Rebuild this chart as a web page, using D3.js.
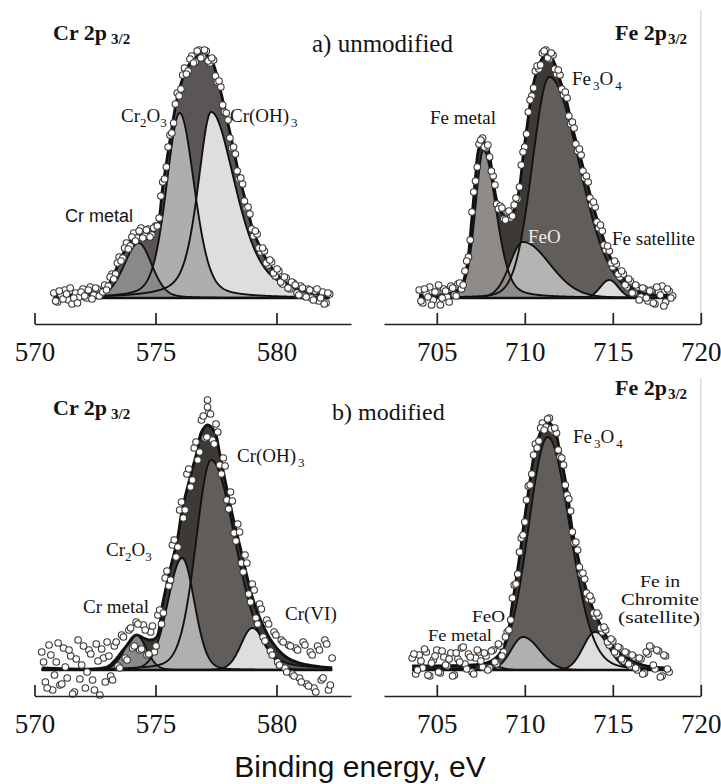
<!DOCTYPE html>
<html><head><meta charset="utf-8">
<script src="https://cdn.jsdelivr.net/npm/d3@7"></script>
<style>html,body{margin:0;padding:0;background:#fff}svg{display:block}</style>
</head><body>
<svg id="chart" width="721" height="784"></svg>
<script>
// ---------------- DATA ----------------
const crTicks = [570, 575, 580];
const feTicks = [705, 710, 715, 720];

// measured spectra: [first energy (eV), step (eV)] and intensities (a.u., background removed)
// two interleaved sweeps per spectrum
const crUnmodScan = [570.8, 0.15];
const crUnmodCounts = [5,-4,3,8,-2,-6,5,1,9,0, 11,3,9,4,13,12,24,24,41,40, 55,52,65,60,70,62,69,63,72,80,
  116,131,163,175,205,209,230,227,242,236, 248,241,247,235,238,216,211,186,178,150,
  144,119,114,90,84,62,64,46,47,33, 36,22,27,14,20,9,15,5,12,2, 9,0,7,-3,6,-5,4];
const crUnmodScan2 = [570.875, 0.15];
const crUnmodCounts2 = [-3,7,-1,4,10,0,-5,6,2,8, -1,10,2,6,8,21,19,35,37,50, 49,61,57,67,60,68,61,70,72,102,
  119,151,165,194,202,223,224,239,235,247, 240,248,237,240,222,217,193,185,160,151,
  127,120,97,91,69,67,50,50,35,38, 25,29,16,21,10,16,13,3,10,1, 8,-2,9,0,-6,5];

const feUnmodScan = [704.0, 0.2];
const feUnmodCounts = [8,-5,4,11,-2,6,-7,9,1,12, 3,14,9,27,41,86,117,154,160,150,
  141,122,94,92,79,86,80,93,99,133, 151,186,202,227,229,245,248,239,243,224,
  223,203,200,174,170,147,143,120,116,93, 91,70,67,48,47,31,34,21,24,11,
  17,5,11,1,9,-3,8,-6,6,12, -4,7,2];
const feUnmodScan2 = [704.1, 0.2];
const feUnmodCounts2 = [-3,9,1,-7,6,13,0,7,-4,10, 2,15,13,37,58,106,131,158,151,153,
  127,113,89,90,78,87,82,100,111,146, 164,198,210,232,233,247,240,245,229,228,
  209,206,182,176,154,149,127,122,100,96, 76,73,53,52,35,37,24,27,13,19,
  5,13,-2,10,0,7,-5,11,3,-8, 9,0];

const crModScan = [570.3, 0.15];
const crModCounts = [18,-12,25,-20,8,-15,22,-8,14,-22, 30,5,-18,20,-10,26,-25,12,28,-6,
  24,4,35,12,40,22,48,20,45,15, 38,18,55,46,92,84,125,113,160,152,
  196,183,222,210,250,232,257,230,246,205, 212,170,178,137,146,107,115,76,86,52,
  66,33,50,19,38,8,30,2,25,-4, 22,-8,28,-14,18,-18,24,-10,30,-20, 12];
const crModScan2 = [570.375, 0.15];
const crModCounts2 = [8,-18,15,-5,27,-14,3,20,-24,11, -9,24,-2,16,-20,9,21,-12,14,-10,
  28,2,33,10,42,24,46,21,40,16, 44,24,60,57,99,90,130,123,168,160,
  201,190,228,218,254,233,256,226,238,196, 204,161,169,129,138,98,107,68,80,46,
  61,29,46,15,35,5,28,-2,24,-6, 20,-12,25,-16,15,-22,20,-8,26,-15];
const crModOutliers = [[577.15, 270], [577.15, 263]];

const feModScan = [703.6, 0.2];
const feModCounts = [12,-4,15,2,18,-6,10,20,-3,13, 4,17,-5,11,22,6,16,-2,12,18,
  3,14,2,20,6,24,18,38,50,85, 96,132,148,184,196,226,229,247,243,252,
  239,237,213,205,175,159,127,120,96,91, 71,70,53,54,38,40,25,29,16,22,
  9,17,4,13,0,11,-3,16,22,1, 19,-6,14,-2];
const feModScan2 = [703.7, 0.2];
const feModCounts2 = [16,0,9,21,-5,7,14,-2,19,5, 11,-6,17,8,23,1,13,-4,20,9,
  17,0,19,8,26,14,33,40,72,86, 118,135,170,185,215,222,242,240,251,241,
  242,220,212,185,171,138,128,103,97,77, 74,57,57,42,43,28,31,18,23,11,
  18,6,15,2,12,-4,18,24,5,20, -7,15,1];

// fitted envelopes [eV, intensity]
const crUnmodFit = [[570.8,2],[571.5,3],[572.0,4],[572.5,6],[572.9,10],[573.1,15],[573.3,25],[573.6,41],[573.9,55],[574.2,61],[574.5,64],[574.8,65],[575.05,70],[575.3,111],[575.6,158],[575.9,200],[576.3,230],[576.8,243],[577.05,244],[577.35,236],[577.65,211],[577.9,185],[578.2,152],[578.5,118],[578.8,90],[579.0,70],[579.3,52],[579.6,38],[580.0,24],[580.4,15],[580.8,9],[581.2,6],[581.6,4],[582.2,3]];
const feUnmodFit = [[704.0,3],[705.0,3],[706.0,6],[706.4,12],[706.7,31],[707.0,81],[707.2,121],[707.4,150],[707.65,156],[707.9,150],[708.2,118],[708.4,98],[708.7,85],[709.0,81],[709.4,88],[709.7,111],[709.9,141],[710.2,181],[710.45,211],[710.85,235],[711.25,245],[711.6,238],[712.0,218],[712.4,195],[712.7,171],[713.1,145],[713.5,118],[713.9,91],[714.3,68],[714.7,48],[715.0,35],[715.4,25],[715.8,15],[716.5,6],[717.5,3],[718.4,3]];
const crModFit = [[570.3,2],[573.0,3],[573.3,9],[573.6,18],[573.9,27],[574.2,35],[574.5,32],[574.8,30],[575.05,33],[575.3,67],[575.6,100],[575.9,130],[576.1,160],[576.4,190],[576.7,217],[576.9,238],[577.15,245],[577.45,238],[577.65,217],[577.9,187],[578.2,153],[578.5,123],[578.75,97],[579.0,73],[579.4,47],[579.85,27],[580.4,13],[580.95,7],[582.3,2]];
const feModFit = [[703.6,4],[707.0,5],[707.8,7],[708.2,10],[708.6,17],[709.0,33],[709.3,67],[709.7,113],[710.0,153],[710.3,190],[710.55,217],[710.95,240],[711.3,248],[711.7,240],[712.0,217],[712.4,180],[712.7,140],[713.1,107],[713.5,80],[713.9,60],[714.25,47],[714.65,33],[715.2,20],[715.8,12],[716.7,5],[718.2,2]];

// fitted components (pseudo-Voigt: centre, height, left/right HWHM, Lorentzian fraction)
const crUnmodPeaks = [
  {name:"Cr(OH)3", center:577.3, height:186, hwhmL:0.65, hwhmR:1.2, lorentz:0.5},
  {name:"Cr2O3", center:576.0, height:185, hwhmL:0.65, hwhmR:0.72, lorentz:0.3},
  {name:"Cr metal", center:574.3, height:55, hwhmL:0.7, hwhmR:0.65, lorentz:0.2}];
const feUnmodPeaks = [
  {name:"Fe3O4", center:711.4, height:221, hwhmL:1.15, hwhmR:2.0, lorentz:0.1},
  {name:"FeO", center:709.9, height:56, hwhmL:0.89, hwhmR:1.8, lorentz:0.1},
  {name:"Fe metal", center:707.65, height:148, hwhmL:0.55, hwhmR:0.85, lorentz:0.3},
  {name:"Fe satellite", center:714.8, height:18, hwhmL:0.6, hwhmR:0.6, lorentz:0}];
const crModPeaks = [
  {name:"Cr(OH)3", center:577.3, height:210, hwhmL:0.75, hwhmR:1.2, lorentz:0.2},
  {name:"Cr2O3", center:576.1, height:112, hwhmL:0.7, hwhmR:0.6, lorentz:0.1},
  {name:"Cr(VI)", center:579.0, height:42, hwhmL:0.55, hwhmR:0.65, lorentz:0.1},
  {name:"Cr metal", center:574.2, height:35, hwhmL:0.55, hwhmR:0.5, lorentz:0.1}];
const feModPeaks = [
  {name:"Fe3O4", center:711.3, height:233, hwhmL:1.3, hwhmR:1.5, lorentz:0.1},
  {name:"FeO", center:709.9, height:33, hwhmL:0.8, hwhmR:1.1, lorentz:0},
  {name:"Fe chromite", center:714.0, height:38, hwhmL:0.8, hwhmR:0.9, lorentz:0},
  {name:"Fe metal", center:707.8, height:7, hwhmL:0.7, hwhmR:0.7, lorentz:0}];

// ---------------- LAYOUT / STYLE ----------------
const svg = d3.select("#chart");
const SERIF = '"Liberation Serif","Times New Roman",serif';
const SANS = '"Liberation Sans",Arial,sans-serif';

const panels = [
  {scans:[[crUnmodScan, crUnmodCounts],[crUnmodScan2, crUnmodCounts2]], extra:[], fit:crUnmodFit, peaks:crUnmodPeaks,
   xDomain:[570,583.08], xRange:[34.5,351], ticks:crTicks, axisY:324, baseY:298, envColor:"#5a5655",
   colors:{"Cr(OH)3":"#dedede","Cr2O3":"#aeaeae","Cr metal":"#8b8988"}, rule:null},
  {scans:[[feUnmodScan, feUnmodCounts],[feUnmodScan2, feUnmodCounts2]], extra:[], fit:feUnmodFit, peaks:feUnmodPeaks,
   xDomain:[702,720], xRange:[384,700.8], ticks:feTicks, axisY:324, baseY:298, envColor:"#3d3935",
   colors:{"Fe3O4":"#615d5a","FeO":"#b4b4b4","Fe metal":"#8e8b89","Fe satellite":"#dcdcdc"}, rule:[10,324]},
  {scans:[[crModScan, crModCounts],[crModScan2, crModCounts2]], extra:crModOutliers, fit:crModFit, peaks:crModPeaks,
   xDomain:[570,583.08], xRange:[34.5,351], ticks:crTicks, axisY:696, baseY:670, envColor:"#3d3935",
   colors:{"Cr(OH)3":"#615d5a","Cr2O3":"#b0b0b0","Cr(VI)":"#dedede","Cr metal":"#8b8988"}, rule:null},
  {scans:[[feModScan, feModCounts],[feModScan2, feModCounts2]], extra:[], fit:feModFit, peaks:feModPeaks,
   xDomain:[702,720], xRange:[384,700.8], ticks:feTicks, axisY:696, baseY:670, envColor:"#3d3935",
   colors:{"Fe3O4":"#615d5a","FeO":"#b0b0b0","Fe chromite":"#dedede","Fe metal":"#8e8b89"}, rule:[378,696]}
];

function pv(e, p) {
  const w = e < p.center ? p.hwhmL : p.hwhmR;
  const u = (e - p.center) / w;
  const g = Math.exp(-Math.LN2 * u * u);
  const l = 1 / (1 + u * u);
  return p.height * ((1 - p.lorentz) * g + p.lorentz * l);
}

function addText(g, x, y, str, size, opt = {}) {
  const t = g.append("text").attr("x", x).attr("y", y)
    .attr("font-family", opt.family || SERIF).attr("font-size", size)
    .attr("font-weight", opt.weight || "normal").attr("fill", opt.fill || "#141414");
  if (opt.len) t.attr("textLength", opt.len).attr("lengthAdjust", "spacingAndGlyphs");
  const re = /_\{([^}]*)\}/g;
  let last = 0, m, shifted = 0;
  const sub = opt.subSize || Math.round(size * 0.68), sh = opt.subShift || Math.round(size * 0.28);
  while ((m = re.exec(str)) !== null) {
    if (m.index > last) { t.append("tspan").attr("dy", -shifted).text(str.slice(last, m.index)); shifted = 0; }
    t.append("tspan").attr("dy", sh - shifted).attr("font-size", sub).attr("dx", opt.subGap || 0).text(m[1]);
    shifted = sh; last = re.lastIndex;
  }
  if (last < str.length) t.append("tspan").attr("dy", -shifted).text(str.slice(last));
  return t;
}

panels.forEach(P => {
  const g = svg.append("g");
  const x = d3.scaleLinear().domain(P.xDomain).range(P.xRange);
  const y = d3.scaleLinear().domain([0, 250]).range([P.baseY, P.baseY - 250]);
  let pts = [];
  P.scans.forEach(([sc, vals]) => { pts = pts.concat(vals.map((v, i) => [sc[0] + i * sc[1], v])); });
  pts = pts.concat(P.extra);
  const e0 = d3.min(pts, d => d[0]), eEnd = d3.max(pts, d => d[0]);
  const grid = d3.range(e0, eEnd + 0.001, 0.02);

  if (P.rule) g.append("line").attr("x1", P.xRange[1]).attr("x2", P.xRange[1])
    .attr("y1", P.rule[0]).attr("y2", P.rule[1]).attr("stroke", "#d6d2cf").attr("stroke-width", 1.2);

  const curve = d3.curveCatmullRom.alpha(0.5);
  g.append("path").datum(P.fit)
    .attr("d", d3.area().x(d => x(d[0])).y0(P.baseY).y1(d => y(d[1])).curve(curve))
    .attr("fill", P.envColor);
  P.peaks.forEach(p => {
    const data = grid.map(e => [e, pv(e, p)]);
    g.append("path").datum(data)
      .attr("d", d3.area().x(d => x(d[0])).y0(P.baseY).y1(d => y(d[1])))
      .attr("fill", P.colors[p.name]);
  });
  P.peaks.forEach(p => {
    const data = grid.map(e => [e, pv(e, p)]);
    g.append("path").datum(data)
      .attr("d", d3.line().x(d => x(d[0])).y(d => y(d[1])))
      .attr("fill", "none").attr("stroke", "#141210").attr("stroke-width", 1.9);
  });
  g.append("path").datum(P.fit)
    .attr("d", d3.line().x(d => x(d[0])).y(d => y(d[1])).curve(curve))
    .attr("fill", "none").attr("stroke", "#111").attr("stroke-width", 2.8);
  g.append("line").attr("x1", x(e0)).attr("x2", x(eEnd)).attr("y1", P.baseY).attr("y2", P.baseY)
    .attr("stroke", "#111").attr("stroke-width", 2.6);
  g.append("g").selectAll("circle").data(pts).join("circle")
    .attr("cx", d => x(d[0])).attr("cy", d => y(d[1])).attr("r", 3.3)
    .attr("fill", "#fff").attr("stroke", "#3a3836").attr("stroke-width", 1.1);

  const ax = g.append("g").attr("transform", `translate(0,${P.axisY})`)
    .call(d3.axisBottom(x).tickValues(P.ticks).tickSize(-11).tickSizeOuter(0).tickFormat(d3.format("d")));
  ax.select(".domain").attr("stroke", "#222").attr("stroke-width", 1.7);
  ax.selectAll(".tick line").attr("stroke", "#222").attr("stroke-width", 1.7);
  ax.selectAll(".tick text").attr("y", 37).attr("dy", null)
    .attr("font-family", SERIF).attr("font-size", 27).attr("fill", "#141414");
});

// ---------------- LABELS ----------------
const L = svg.append("g");
addText(L, 53, 40, "Cr 2p_{3/2}", 22, {weight:"bold", subSize:15, subShift:4, subGap:4});
addText(L, 312, 52, "a) unmodified", 25);
addText(L, 121, 122, "Cr_{2}O_{3}", 19, {subSize:13, subShift:5});
addText(L, 230, 122, "Cr(OH)_{3}", 19, {subSize:13, subShift:5, subGap:2});
addText(L, 65, 222, "Cr metal", 18, {family:SANS});
addText(L, 615, 40, "Fe 2p_{3/2}", 22, {weight:"bold", subSize:15, subShift:4, subGap:1});
addText(L, 572, 85, "Fe_{3}O_{4}", 19, {subSize:13, subShift:5, subGap:2});
addText(L, 430, 124, "Fe metal", 19);
addText(L, 528, 243, "FeO", 19, {fill:"#ececec"});
addText(L, 612, 245, "Fe satellite", 19);

addText(L, 53, 415, "Cr 2p_{3/2}", 22, {weight:"bold", subSize:15, subShift:4, subGap:4});
addText(L, 332, 420, "b) modified", 24);
addText(L, 106, 556, "Cr_{2}O_{3}", 19, {subSize:13, subShift:5});
addText(L, 237, 462, "Cr(OH)_{3}", 19, {subSize:13, subShift:5, subGap:2});
addText(L, 83, 613, "Cr metal", 19);
addText(L, 285, 620, "Cr(VI)", 19);
addText(L, 615, 395, "Fe 2p_{3/2}", 22, {weight:"bold", subSize:15, subShift:4, subGap:1});
addText(L, 573, 443, "Fe_{3}O_{4}", 19, {subSize:13, subShift:5, subGap:2});
addText(L, 472, 622, "FeO", 17, {len:33});
addText(L, 428, 641, "Fe metal", 17, {len:64});
addText(L, 660, 587, "Fe in", 16, {len:40}).attr("text-anchor", "middle");
addText(L, 660, 605, "Chromite", 16, {len:78}).attr("text-anchor", "middle");
addText(L, 659, 623, "(satellite)", 16, {len:82}).attr("text-anchor", "middle");

svg.append("text").attr("x", 360).attr("y", 777).attr("text-anchor", "middle")
  .attr("font-family", SANS).attr("font-size", 30).attr("fill", "#111").text("Binding energy, eV");
</script>
</body></html>
